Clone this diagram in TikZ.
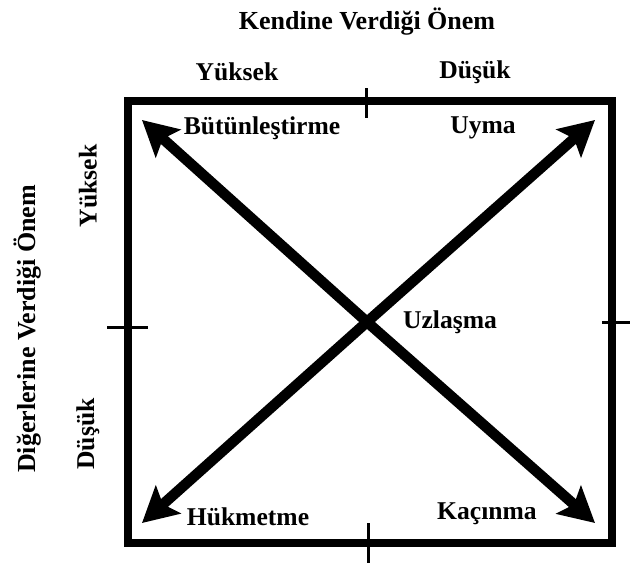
\documentclass[tikz,border=0pt]{standalone}
\usepackage{fontspec}
\setmainfont{Liberation Serif}
\usetikzlibrary{arrows.meta}
\begin{document}
\begin{tikzpicture}[x=1pt,y=-1pt,
  lbl/.style={font=\fontsize{25.6}{28}\selectfont\bfseries, inner sep=0pt},
  ttl/.style={font=\fontsize{26}{28}\selectfont\bfseries, inner sep=0pt},
  frame/.style={line width=8pt},
  tick/.style={line width=3pt},
  bigarrow/.style={line width=10.5pt, -{Stealth[length=35pt,width=37pt,inset=7pt]}}]
\useasboundingbox (0,0) rectangle (630,563);
\draw[frame] (128,101) rectangle (612,543);
% ticks
\coordinate (tt1) at (366,88); \coordinate (tt2) at (366,118);
\coordinate (tb1) at (368,523); \coordinate (tb2) at (368,563);
\coordinate (tl1) at (107,327); \coordinate (tl2) at (148,327);
\coordinate (tr1) at (602,322); \coordinate (tr2) at (630,322);
\draw[tick] (tt1) -- (tt2);
\draw[tick] (tb1) -- (tb2);
\draw[tick] (tl1) -- (tl2);
\draw[tick] (tr1) -- (tr2);
% arrows
\coordinate (c) at (367,322);
\coordinate (tlA) at (142,120);
\coordinate (trA) at (595,120);
\coordinate (blA) at (142,523);
\coordinate (brA) at (595,523);
\draw[bigarrow] (c) -- (tlA);
\draw[bigarrow] (c) -- (trA);
\draw[bigarrow] (c) -- (blA);
\draw[bigarrow] (c) -- (brA);
% labels
\node[ttl] (title) at (367,22) {Kendine Verdiği Önem};
\node[lbl] (yk) at (237,72) {Yüksek};
\node[lbl] (dk) at (475,72) {Düşük};
\node[lbl] (but) at (262,128) {Bütünleştirme};
\node[lbl] (uym) at (483,128) {Uyma};
\node[lbl] (uzl) at (450,322) {Uzlaşma};
\node[lbl] (huk) at (248,517) {Hükmetme};
\node[lbl] (kac) at (487,514) {Kaçınma};
\node[ttl, rotate=90] (yaxis) at (28,329) {Diğerlerine Verdiği Önem};
\node[lbl, rotate=90] (yy) at (88,186) {Yüksek};
\node[lbl, rotate=90] (yd) at (88,434) {Düşük};
\end{tikzpicture}
\end{document}
